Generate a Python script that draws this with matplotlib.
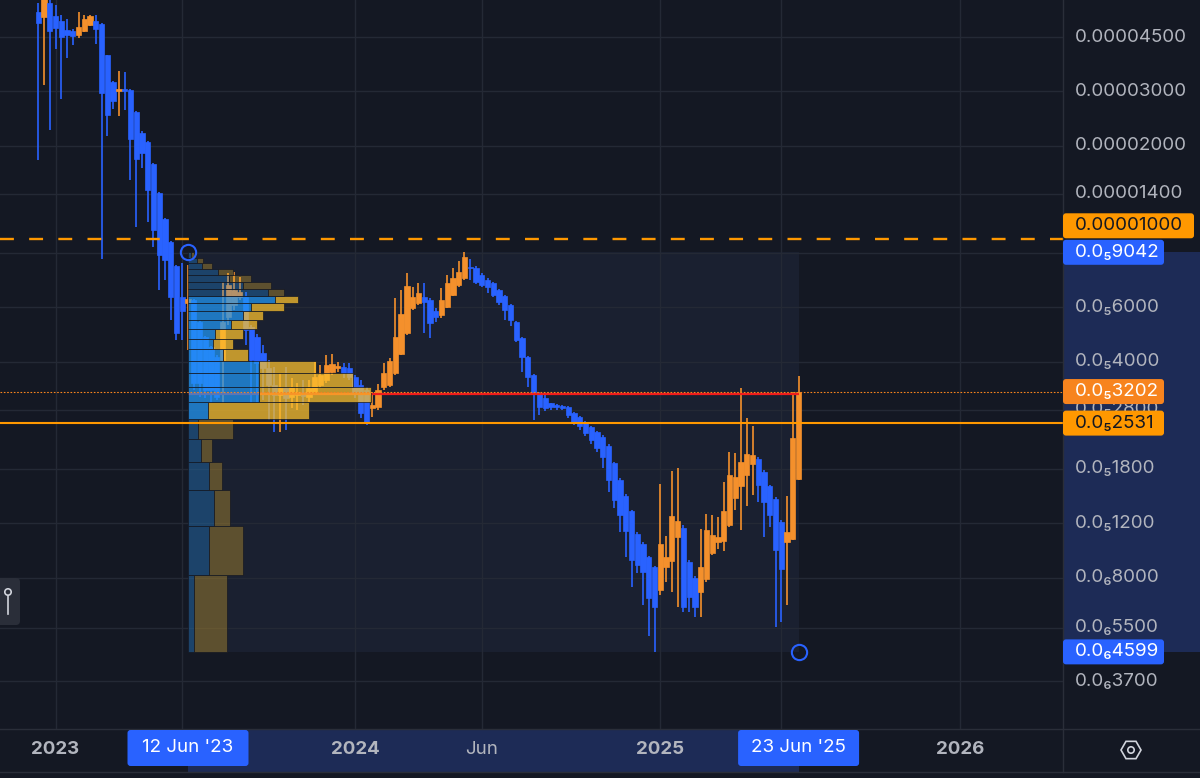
import numpy as np
import pandas as pd
import matplotlib
matplotlib.use("Agg")
import matplotlib.pyplot as plt
import matplotlib.dates as mdates
from matplotlib.colors import to_rgba
from matplotlib.patches import FancyBboxPatch, RegularPolygon, Circle, Rectangle
from matplotlib.lines import Line2D
from matplotlib.ticker import NullLocator
from matplotlib.transforms import IdentityTransform

plt.rcParams["font.family"] = ["Inter", "DejaVu Sans"]
plt.rcParams["lines.scale_dashes"] = False

# weekly candles, prices in millionths (1.0 = 0.000001)
weeks = pd.date_range("2022-12-12", periods=133, freq="7D")
opens = [54.2, 52.2, 58.0, 52.6, 50.7, 47.4, 47.0, 45.7, 47.0, 49.2, 50.7, 49.6, 39.3, 32.2, 30.1, 30.5, 30.3, 25.8, 22.0, 20.5, 17.4, 14.1, 11.6, 9.77, 8.17, 6.48,
         6.20, 6.34, 5.38, 4.81, 4.46, 4.14, 4.05, 5.58, 6.11, 6.48,
         6.48, 5.19, 4.81, 4.27, 3.82, 3.36, 3.12, 3.29, 3.08, 3.12,
         3.19, 3.08, 3.19, 3.36, 3.49, 3.70, 3.82, 3.84, 3.82, 3.57,
         3.36, 3.24, 2.84, 2.86, 3.31, 3.36, 3.67, 4.24, 4.95, 5.97,
         6.20, 6.48, 6.34, 5.84, 5.67, 6.00, 6.58, 7.09, 7.45, 8.10,
         8.05, 7.63, 7.35, 7.20, 6.83, 6.53, 6.11, 5.38, 4.77, 4.14,
         3.62, 3.17, 3.05, 2.93, 2.90, 2.88, 2.86, 2.73, 2.65, 2.55,
         2.45, 2.37, 2.29, 2.14, 1.88, 1.66, 1.47, 1.31, 1.11, 1.03,
         0.933, 0.866, 0.729, 0.866, 0.905, 1.08, 1.16, 0.898, 0.80, 0.718,
         0.79, 0.96, 1.04, 1.05, 1.18, 1.45, 1.58, 1.72, 1.86, 1.94,
         1.76, 1.58, 1.44, 1.21, 1.04, 1.07, 1.67]
highs = [58.0, 62.0, 61.0, 57.1, 53.0, 51.5, 47.6, 54.2, 53.0, 53.0, 53.0, 49.8, 39.5, 32.4, 34.9, 34.7, 30.5, 26.0, 22.4, 20.7, 17.6, 14.2, 11.7, 9.85, 8.2, 8.35,
         8.2, 6.4, 5.45, 4.85, 4.5, 4.2, 7.24, 7.76, 7.82, 7.5,
         6.73, 5.26, 4.9, 4.53, 4.05, 3.84, 3.67, 3.84, 3.55, 3.41,
         3.49, 3.49, 3.98, 3.90, 4.21, 4.24, 3.98, 3.95, 3.95, 3.62,
         3.49, 3.31, 3.19, 3.39, 3.95, 4.10, 6.43, 6.83, 7.76, 6.98,
         7.20, 7.20, 6.43, 5.97, 6.93, 7.63, 8.05, 8.48, 9.042, 8.60,
         8.15, 7.76, 7.45, 7.25, 6.9, 6.6, 6.15, 5.42, 4.80, 4.18,
         3.66, 3.20, 3.12, 2.95, 2.92, 2.90, 2.88, 2.75, 2.67, 2.57,
         2.47, 2.39, 2.31, 2.16, 1.90, 1.68, 1.49, 1.32, 1.12, 1.04,
         0.94, 0.87, 1.61, 1.09, 1.77, 1.81, 1.18, 0.91, 0.81, 1.15,
         1.29, 1.28, 1.26, 1.63, 2.04, 2.03, 3.29, 2.62, 2.47, 1.96,
         1.78, 1.60, 1.46, 1.23, 1.47, 3.19, 3.59]
lows = [18.0, 31.5, 22.5, 41.1, 28.4, 38.5, 42.4, 44.7, 46.7, 48.8, 42.7, 8.6, 21.5, 26.3, 25.0, 26.1, 15.5, 10.9, 16.9, 11.3, 9.41, 6.83, 7.35, 5.46, 4.70, 4.70,
        4.36, 3.24, 3.08, 3.05, 2.93, 3.01, 2.93, 5.26, 5.88, 6.34,
        4.53, 2.93, 2.93, 3.01, 2.59, 2.37, 2.37, 2.40, 2.84, 2.79,
        2.90, 2.97, 3.12, 3.29, 3.41, 3.62, 3.70, 3.54, 3.49, 3.05,
        2.63, 2.49, 2.65, 2.79, 3.24, 3.31, 3.62, 4.21, 4.88, 5.88,
        6.11, 4.95, 4.77, 5.38, 5.55, 5.97, 6.53, 6.98, 7.35, 7.35,
        7.15, 7.0, 6.68, 6.48, 6.11, 5.46, 5.22, 4.64, 3.70, 3.31,
        2.59, 2.69, 2.76, 2.79, 2.80, 2.79, 2.63, 2.49, 2.40, 2.30,
        2.17, 2.04, 1.81, 1.52, 1.34, 1.12, 0.933, 0.746, 0.828, 0.652,
        0.518, 0.4599, 0.703, 0.774, 0.718, 0.642, 0.62, 0.62, 0.596, 0.596,
        0.774, 0.95, 0.99, 0.976, 1.17, 1.32, 1.14, 1.36, 1.48, 1.41,
        1.08, 1.17, 0.554, 0.574, 0.652, 1.06, 1.66]
closes = [49.9, 60.0, 47.0, 48.1, 45.0, 45.7, 45.3, 48.5, 51.5, 52.6, 47.7, 29.6, 25.2, 27.9, 30.5, 30.1, 21.1, 18.1, 19.0, 14.4, 10.7, 8.86, 8.54, 6.48, 4.95, 5.84,
          6.39, 3.41, 3.41, 3.24, 3.24, 3.08, 5.38, 7.09, 6.83, 6.73,
          5.07, 4.05, 3.95, 3.82, 3.36, 3.12, 3.29, 3.05, 3.31, 3.19,
          3.10, 3.29, 3.57, 3.62, 3.90, 3.93, 3.87, 3.67, 3.57, 3.17,
          2.73, 2.55, 2.90, 3.24, 3.67, 4.02, 4.81, 5.71, 7.03, 6.48,
          6.68, 6.25, 5.34, 5.58, 6.34, 7.20, 7.45, 7.82, 8.73, 8.05,
          7.24, 7.09, 6.98, 6.58, 6.25, 5.88, 5.46, 4.70, 4.14, 3.57,
          3.17, 2.86, 2.84, 2.86, 2.86, 2.83, 2.69, 2.55, 2.47, 2.35,
          2.23, 2.10, 1.97, 1.66, 1.43, 1.28, 1.13, 0.912, 0.879, 0.834,
          0.687, 0.642, 1.03, 0.933, 1.27, 1.22, 0.642, 0.692, 0.642, 0.866,
          1.14, 1.10, 1.08, 1.31, 1.72, 1.69, 1.89, 2.01, 2.00, 1.59,
          1.41, 1.28, 0.983, 0.853, 1.12, 2.26, 3.202]

# fixed range volume profile, 24 rows from bottom to top
vp_start, vp_end = "2023-06-12", "2025-06-23"
vp_low, vp_high = 0.4599, 9.042
vol_up = [6, 21, 26, 21, 13, 10, 20, 70, 70, 70, 34, 25, 27, 42, 54, 62, 85, 79, 54, 40, 29, 14, 9, 3]
vol_down = [32, 33, 15, 12, 11, 34, 99, 110, 92, 56, 25, 19, 27, 26, 20, 32, 23, 15, 28, 22, 15, 10, 6, 3]
value_area = (6, 16)

level_dashed = 10.0
level_solid = 2.531
last_price = 3.202

price_ticks = [45, 30, 20, 14, 9, 6, 4, 2.8, 1.8, 1.2, 0.8, 0.55, 0.37]
time_ticks = ["2023-01-02", "2023-06-05", "2024-01-01", "2024-06-03", "2025-01-06", "2025-06-02", "2026-01-05"]
time_labels = ["2023", "", "2024", "Jun", "2025", "", "2026"]

BG = "#141823"
GRID = "#242935"
VP_BG = "#1a2030"
HL = "#1d2b56"
BLUE = "#2962ff"
ORANGE = "#f4902c"
LINE_OR = "#ff9800"
TEXT = "#b2b5be"

SUB = "₀₁₂₃₄₅₆₇₈₉"


def tv_price(v):
    p = v * 1e-6
    if p >= 0.99999e-5:
        return f"{p:.8f}"
    e = int(np.floor(np.log10(p)))
    return "0.0" + SUB[-e - 1] + f"{p / 10**e:.3f}".replace(".", "")


W, H = 1200, 778
PLOT_R, PLOT_B, AXIS_B = 1063, 729, 772
fig = plt.figure(figsize=(12, 7.78), dpi=100, facecolor=BG)
ax = fig.add_axes([0, (H - PLOT_B) / H, PLOT_R / W, PLOT_B / H], facecolor=BG)
ax_p = fig.add_axes([PLOT_R / W, (H - PLOT_B) / H, (W - PLOT_R) / W, PLOT_B / H], facecolor=BG)
ax_t = fig.add_axes([0, (H - AXIS_B) / H, PLOT_R / W, (AXIS_B - PLOT_B) / H], facecolor=BG)

anchor = mdates.date2num(pd.Timestamp(vp_start))
px_day = 0.8229
xlim = (anchor - 188 / px_day, anchor + (PLOT_R - 188) / px_day)
ylim = (0.2588, 59.3)

for a in (ax, ax_p):
    a.set_yscale("log")
    a.set_ylim(*ylim)
for a in (ax, ax_t):
    a.set_xlim(*xlim)
for a in (ax, ax_p, ax_t):
    for s in a.spines.values():
        s.set_visible(False)
    a.tick_params(which="both", length=0, labelbottom=False, labelleft=False)
ax_p.yaxis.set_minor_locator(NullLocator())
ax_p.set_yticks([])
ax_t.set_yticks([])
ax_t.set_xticks([])
ax_t.set_ylim(0, 1)

# grid
ax.set_xticks(mdates.date2num(pd.to_datetime(time_ticks)))
ax.set_yticks(price_ticks)
ax.yaxis.set_minor_locator(NullLocator())
ax.grid(True, color=GRID, lw=1.0)
ax.set_axisbelow(True)

x = mdates.date2num(weeks)
o, h, l, c = map(np.array, (opens, highs, lows, closes))
cols = np.where(c >= o, ORANGE, BLUE)

# volume profile background
vp_x0 = mdates.date2num(pd.Timestamp(vp_start))
vp_x1 = mdates.date2num(pd.Timestamp(vp_end))
ax.add_patch(Rectangle((vp_x0, vp_low), vp_x1 - vp_x0, vp_high - vp_low, fc=VP_BG, ec="none", zorder=0.2))

# candles
ax.vlines(x, l, h, colors=cols, lw=1.2, zorder=2)
lo, hi = np.minimum(o, c), np.maximum(o, c)
ax.bar(x, hi - lo, bottom=lo, width=6.4, color=cols, edgecolor=cols, lw=0.5, zorder=2.1)

# volume profile rows
edges = np.linspace(vp_low, vp_high, len(vol_up) + 1)
total = np.array(vol_up) + np.array(vol_down)
scale = 0.30 * (vp_x1 - vp_x0) / total.max()
for i in range(len(total)):
    alpha = 0.74 if value_area[0] <= i <= value_area[1] else 0.3
    hgt = edges[i + 1] - edges[i]
    ax.barh(edges[i], vol_up[i] * scale, height=hgt, left=vp_x0, align="edge",
            color=to_rgba("#2196f3", alpha), edgecolor=BG, lw=0.5, zorder=3)
    ax.barh(edges[i], vol_down[i] * scale, height=hgt, left=vp_x0 + vol_up[i] * scale, align="edge",
            color=to_rgba("#fbc02d", alpha), edgecolor=BG, lw=0.5, zorder=3)
poc = int(np.argmax(total))
ax.hlines((edges[poc] + edges[poc + 1]) / 2, vp_x0, vp_x1, color="#f01c1c", lw=1.6, zorder=2.5)

# horizontal levels
ax.axhline(level_dashed, color=LINE_OR, lw=1.7, linestyle=(0, (10, 11)), zorder=4)
ax.axhline(level_solid, color=LINE_OR, lw=1.5, zorder=4)
ax.axhline(last_price, color="#f7841e", lw=0.8, linestyle=(0, (1.2, 1.2)), zorder=4)

ax.plot([vp_x0, vp_x1], [vp_high, vp_low], ls="none", marker="o", ms=11, mfc="none",
        mec=BLUE, mew=1.5, zorder=6, clip_on=False)

# price scale
ax_p.axhspan(vp_low, vp_high, color=HL, lw=0)
for v in price_ticks:
    ax_p.text(12 / (W - PLOT_R), v, tv_price(v), transform=ax_p.get_yaxis_transform(),
              va="center", ha="left", color=TEXT, fontsize=13.5)

# time scale
ax_t.axvspan(vp_x0, vp_x1, color=HL, lw=0)
for d, lab in zip(time_ticks, time_labels):
    if lab:
        ax_t.text(mdates.date2num(pd.Timestamp(d)), 0.53, lab, ha="center", va="center", color=TEXT,
                  fontsize=13.5, fontweight="normal" if lab == "Jun" else "bold")

ident = IdentityTransform()


def px_y(val):
    return ax.transData.transform((xlim[0], val))[1]


def px_x(date):
    return ax.transData.transform((mdates.date2num(pd.Timestamp(date)), 1.0))[0]


tags = [(level_dashed, LINE_OR, "#131722", 13), (vp_high, BLUE, "white", 0),
        (last_price, "#f7841e", "white", 0), (level_solid, LINE_OR, "#131722", 0),
        (vp_low, BLUE, "white", 0)]
for val, fc, tc, dy in tags:
    yy = px_y(val) + dy
    txt = tv_price(val)
    w = 131 if len(txt) >= 10 else 101
    fig.add_artist(FancyBboxPatch((PLOT_R, yy - 12.5), w, 25, boxstyle="round,pad=0,rounding_size=3",
                                  fc=fc, ec="none", transform=ident, zorder=5))
    fig.text(1075, yy, txt, transform=ident, va="center", ha="left", color=tc, fontsize=13.5, zorder=6)

for d in (vp_start, vp_end):
    xx = px_x(d)
    fig.add_artist(FancyBboxPatch((xx - 60.5, H - 766), 121, 36, boxstyle="round,pad=0,rounding_size=3",
                                  fc=BLUE, ec="none", transform=ident, zorder=5))
    ts = pd.Timestamp(d)
    fig.text(xx, H - 748, f"{ts.day} {ts:%b} '{ts:%y}", transform=ident, ha="center", va="center",
             color="white", fontsize=13.5, zorder=6)

# borders
for seg in (([PLOT_R, PLOT_R], [H - AXIS_B, H]), ([0, W], [H - PLOT_B, H - PLOT_B]), ([0, W], [H - AXIS_B, H - AXIS_B])):
    fig.add_artist(Line2D(seg[0], seg[1], color="#2a2e39", lw=1, transform=ident))

# settings icon
fig.add_artist(RegularPolygon((1131, H - 750), 6, radius=10, orientation=np.pi / 6, fill=False,
                              ec="#d1d4dc", lw=1.2, transform=ident))
fig.add_artist(Circle((1131, H - 750), 3.2, fill=False, ec="#d1d4dc", lw=1.2, transform=ident))

# left-side handle
fig.add_artist(FancyBboxPatch((-8, H - 625), 28, 47, boxstyle="round,pad=0,rounding_size=4",
                              fc="#2a2e39", ec="none", transform=ident))
fig.add_artist(Line2D([8, 8], [H - 614, H - 596], color="#d1d4dc", lw=1.2, transform=ident))
fig.add_artist(Circle((8, H - 592), 3.2, fill=False, ec="#d1d4dc", lw=1.2, transform=ident))

fig.savefig("out.png", dpi=100, facecolor=BG)
